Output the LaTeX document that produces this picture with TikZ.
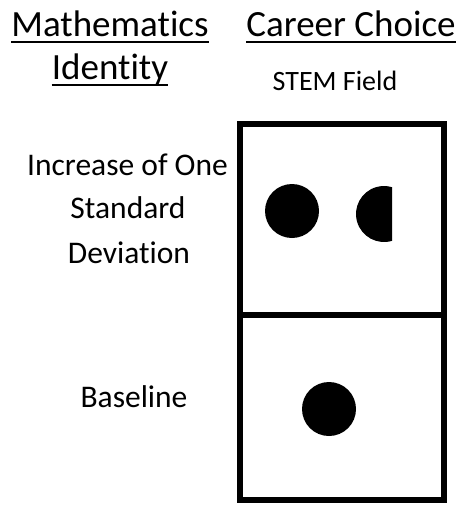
\documentclass[tikz,border=0pt]{standalone}
\usepackage{fontspec}
\setmainfont{Carlito}[Ligatures=NoCommon]
\begin{document}
\begin{tikzpicture}[x=1pt, y=-1pt]
	\tikzset{titre/.style={font=\fontsize{37}{44}\selectfont, inner sep=0pt, anchor=base},
	etiquette/.style={font=\fontsize{31.5}{37}\selectfont, inner sep=0pt, anchor=base},
	case/.style={draw=black, line width=6pt, minimum width=204pt, inner sep=0pt},
	point/.style={circle, fill=black, minimum size=54pt, inner sep=0pt},
	souligne/.style={line width=2pt}};

	\useasboundingbox (0,0) rectangle (458,506);

	% titres
	\node[titre] (math) at (110,36) {Mathematics};
	\node[titre] (ident) at (110,79) {Identity};
	\node[titre] (carr) at (351,36) {Career Choice};
	\node[titre, font=\fontsize{28}{34}\selectfont] (stem) at (335,90) {STEM Field};

	\foreach \name in {math, ident, carr}{
		\draw[souligne] ([yshift=-6pt]\name.base west) -- ([yshift=-6pt]\name.base east);
	}

	% lignes
	\foreach \name/\x/\y/\txt in {un/127.5/175/Increase of One, deux/128/218/Standard, trois/129/263/Deviation, base/134/407/Baseline}{
		\node[etiquette] (\name) at (\x,\y) {\txt};
	}

	% cases
	\node[case, minimum height=191pt] (haut) at (342,219.5) {};
	\node[case, minimum height=185pt] (bas) at (342,407.5) {};

	\node[point] (p1) at (292,211) {};
	\node[point] (p2) at (329,409) {};
	\coordinate (demi) at (384,214);
	\fill ([shift={(demi)}]73.4:28) arc[start angle=73.4, end angle=286.6, radius=28] -- cycle;

\end{tikzpicture}
\end{document}
